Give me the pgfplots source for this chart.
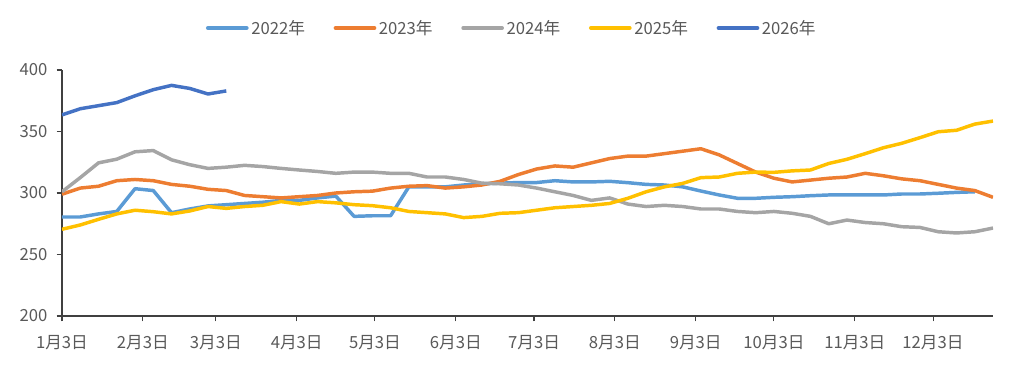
\documentclass[border=0pt]{standalone}
\usepackage{fontspec}
\setmainfont{Noto Sans CJK SC}
\usepackage{pgfplots}
\pgfplotsset{compat=1.18}
\usepackage{pgfplotstable}
\definecolor{c22}{HTML}{5B9BD5}
\definecolor{c23}{HTML}{ED7D31}
\definecolor{c24}{HTML}{A5A5A5}
\definecolor{c25}{HTML}{FFC000}
\definecolor{c26}{HTML}{4472C4}
\definecolor{txt}{HTML}{595959}
\definecolor{axl}{HTML}{404040}
\pgfplotstableread{
d y22 y23 y24 y25
0 280.5 299 301 270.5
7 280.5 304 312.5 274
14 283 305.5 324.5 278.6
21 285 310 327.5 283
28 303.5 311 333.5 286
35 302 310 334.5 284.8
42 284 307 327 283
49 287 305.5 323 285.4
56 289.5 303 320 289
63 290.5 302 321 287.5
70 291.5 298 322.5 289
77 292.5 297 321.5 290
84 294 296 320 293
91 294 297 318.7 291
98 296 298 317.5 293
105 297.5 300 316 292
112 281 301 317 290.5
119 281.5 301.5 317 289.7
126 281.5 304 316 288
133 305 305.5 316 285
140 305 306 313 284
147 305 304 313 283
154 306.5 305 311 280
161 307.5 306.5 308 281
168 308 309.5 307.5 283.5
175 308.5 315 306.5 284
182 308.5 319.5 304 286
189 310 322 301 288
196 309 321 298 289
203 309 324.5 294 290
210 309.5 328 296 291.5
217 308.4 330 291 295.7
224 307 330 289 301
231 306.5 332 290 305
238 305 334 289 307.8
245 301.6 336 287 312.5
252 298.4 331 287 313
259 295.7 324 285 316
266 295.7 317 284 317
273 296.5 312 285 316.8
280 297 309 283.5 318
287 297.8 310.5 281 318.7
294 298.4 312 275 324
301 298.4 313 278 327.4
308 298.4 316 276 332
315 298.4 314 275 336.8
322 299.2 311.5 272.6 340.4
329 299.2 310 272 345
336 299.8 307 268.5 349.8
343 300.5 304 267.5 351
350 301 302 268.5 356
357 nan 296.5 271.5 358.5
}\datatable
\pgfplotstableread{
d y26
0 363.5
7 368.5
14 371
21 373.5
28 379
35 384
42 387.5
49 385
56 380.5
63 383
}\datanew
\begin{document}
\begin{tikzpicture}
\useasboundingbox (-46.5pt,-42pt) rectangle (715.5pt,237pt);
\begin{axis}[
  at={(0,0)}, anchor=south west,
  scale only axis, width=698.25pt, height=184.5pt,
  xmin=0, xmax=357, ymin=200, ymax=400,
  xtick={0,31,59,90,120,151,181,212,243,273,304,334},
  xticklabels={1月3日,2月3日,3月3日,4月3日,5月3日,6月3日,7月3日,8月3日,9月3日,10月3日,11月3日,12月3日},
  ytick={200,250,300,350,400},
  axis x line*=bottom, axis y line*=left,
  axis line style={axl, line width=0.8pt, -},
  tick style={axl, line width=0.8pt},
  tick align=outside, major tick length=4pt,
  ticklabel style={font=\fontsize{12.5}{14}\selectfont, text=txt},
  /pgf/number format/assume math mode=true,
  /pgf/number format/1000 sep={},
  yticklabel style={xshift=-3.5pt},
  xticklabel style={yshift=-7pt},
  legend columns=5,
  legend style={at={(0.4835,1)}, anchor=center, yshift=31.5pt, draw=none,
    font=\fontsize{12.5}{14}\selectfont, text=txt,
    /tikz/every even column/.append style={column sep=19.5pt}},
  legend image code/.code={\draw[#1, line width=3pt, line cap=round] (0pt,0pt) -- (29pt,0pt);},
  every axis plot/.append style={line width=2.6pt, line join=round, no marks},
]
\addplot[c22] table[x=d, y=y22] {\datatable};
\addlegendentry{2022年}
\addplot[c23] table[x=d, y=y23] {\datatable};
\addlegendentry{2023年}
\addplot[c24] table[x=d, y=y24] {\datatable};
\addlegendentry{2024年}
\addplot[c25] table[x=d, y=y25] {\datatable};
\addlegendentry{2025年}
\addplot[c26] table[x=d, y=y26] {\datanew};
\addlegendentry{2026年}
\end{axis}
\end{tikzpicture}
\end{document}
